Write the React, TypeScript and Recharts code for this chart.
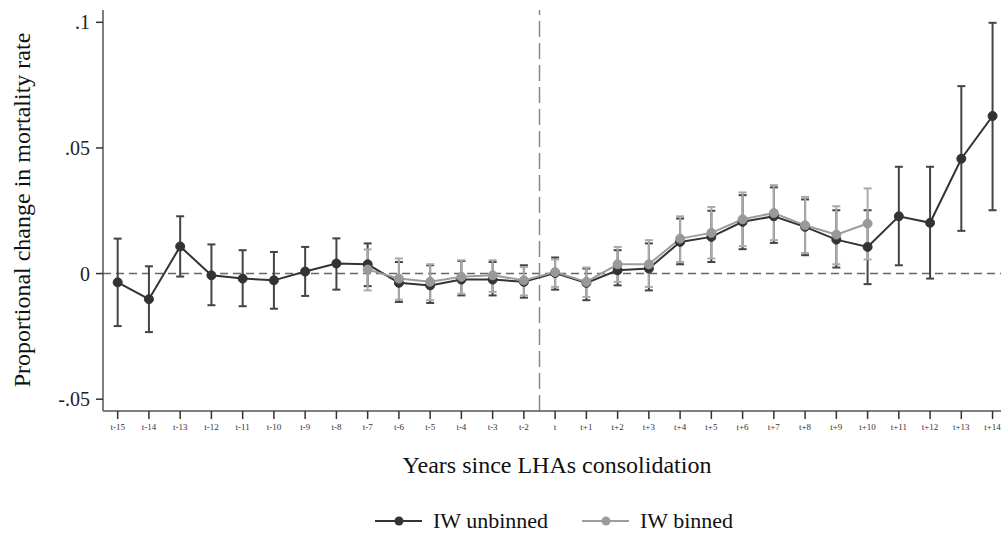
import React from 'react';
import { ComposedChart, Line, XAxis, YAxis, ErrorBar, ReferenceLine } from 'recharts';

const xLabels = [
    't-15', 't-14', 't-13', 't-12', 't-11', 't-10', 't-9', 't-8', 't-7', 't-6', 't-5', 't-4', 't-3', 't-2',
    't',
    't+1', 't+2', 't+3', 't+4', 't+5', 't+6', 't+7', 't+8', 't+9', 't+10', 't+11', 't+12', 't+13', 't+14',
];

// IW unbinned: point estimate and 95% CI
const unbinned = [
    -0.0035, -0.0102, 0.0108, -0.0007, -0.002, -0.0027, 0.0008, 0.004, 0.0037, -0.0037, -0.0047, -0.0024, -0.0024, -0.0033,
    0.0002,
    -0.0037, 0.0013, 0.002, 0.0126, 0.0146, 0.0206, 0.0228, 0.0186, 0.0135, 0.0106, 0.0228, 0.0202, 0.0457, 0.0627,
];
const unbinnedLo = [
    -0.0209, -0.0233, -0.0012, -0.0126, -0.013, -0.014, -0.0089, -0.0064, -0.005, -0.0113, -0.0117, -0.0087, -0.0087, -0.0096,
    -0.0064,
    -0.0106, -0.0047, -0.0067, 0.0037, 0.0046, 0.0097, 0.0122, 0.0073, 0.0024, -0.0042, 0.0033, -0.002, 0.017, 0.0252,
];
const unbinnedHi = [
    0.0139, 0.0029, 0.0228, 0.0116, 0.0093, 0.0086, 0.0106, 0.014, 0.012, 0.0046, 0.0033, 0.005, 0.0046, 0.0033,
    0.0064,
    0.002, 0.0093, 0.012, 0.0219, 0.025, 0.0312, 0.0343, 0.0295, 0.0252, 0.0252, 0.0425, 0.0425, 0.0746, 0.0998,
];

// IW binned: only t-7 .. t+10
const binned = [
    null, null, null, null, null, null, null, null, 0.0016, -0.002, -0.0033, -0.0013, -0.0007, -0.0027,
    0.0006,
    -0.0033, 0.0037, 0.0037, 0.0139, 0.0162, 0.0216, 0.0241, 0.0192, 0.0155, 0.0199, null, null, null, null,
];
const binnedLo = [
    null, null, null, null, null, null, null, null, -0.0067, -0.0104, -0.0106, -0.008, -0.0073, -0.0087,
    -0.0053,
    -0.0093, -0.0033, -0.0053, 0.0046, 0.006, 0.0109, 0.0133, 0.0082, 0.0037, 0.0056, null, null, null, null,
];
const binnedHi = [
    null, null, null, null, null, null, null, null, 0.0096, 0.006, 0.0037, 0.0053, 0.0053, 0.0026,
    0.0056,
    0.0024, 0.0106, 0.0133, 0.0228, 0.0265, 0.0323, 0.0352, 0.0305, 0.0268, 0.0339, null, null, null, null,
];

const yTicks = [-0.05, 0, 0.05, 0.1];
const yTickLabels = ['-.05', '0', '.05', '.1'];
const eventAt = 13.5; // between t-2 and t

const FONT = '"Liberation Serif", "DejaVu Serif", serif';

const unbData = xLabels.map((label, i) => ({
    idx: i,
    label,
    unb: unbinned[i],
    unbErr: [unbinned[i] - unbinnedLo[i], unbinnedHi[i] - unbinned[i]],
}));

const binData = xLabels
    .map((label, i) => ({
        idx: i,
        label,
        bin: binned[i],
        binErr: binned[i] == null ? null : [binned[i]! - binnedLo[i]!, binnedHi[i]! - binned[i]!],
    }))
    .filter((d) => d.bin != null);

const LegendItem: React.FC<{ left: number; color: string; text: string }> = ({ left, color, text }) => (
    <div style={{ position: 'absolute', left, top: 507, display: 'flex', alignItems: 'center', height: 28 }}>
        <svg width={48} height={14} style={{ marginRight: 10 }}>
            <line x1={0} y1={7} x2={47} y2={7} stroke={color} strokeWidth={2} />
            <circle cx={24} cy={7} r={4.5} fill={color} />
        </svg>
        <span style={{ fontFamily: FONT, fontSize: 22, color: '#111' }}>{text}</span>
    </div>
);

const App: React.FC = () => {
    return (
        <div style={{ position: 'absolute', left: 0, top: 0, width: 1001, height: 538, background: '#fff' }}>
            <ComposedChart width={1001} height={538} margin={{ top: 10, right: 0, bottom: 0, left: 0 }}>
                <XAxis
                    dataKey="idx"
                    type="number"
                    domain={[-0.47, 28.27]}
                    ticks={xLabels.map((_, i) => i)}
                    interval={0}
                    tickFormatter={(v: number) => xLabels[v]}
                    height={127}
                    tickSize={8}
                    tickMargin={5}
                    axisLine={{ stroke: '#555', strokeWidth: 1.5 }}
                    tickLine={{ stroke: '#333', strokeWidth: 1.5 }}
                    tick={{ fill: '#333', fontSize: 9, fontFamily: FONT }}
                    allowDataOverflow
                />
                <YAxis
                    type="number"
                    domain={[-0.0547, 0.1049]}
                    ticks={yTicks}
                    interval={0}
                    tickFormatter={(v: number) => yTickLabels[yTicks.indexOf(v)]}
                    width={103}
                    tickSize={7}
                    tickMargin={6}
                    axisLine={{ stroke: '#555', strokeWidth: 1.5 }}
                    tickLine={{ stroke: '#333', strokeWidth: 1.5 }}
                    tick={{ fill: '#222', fontSize: 20, fontFamily: FONT }}
                    allowDataOverflow
                />
                <ReferenceLine y={0} stroke="#666" strokeWidth={1.5} strokeDasharray="8 5" />
                <ReferenceLine x={eventAt} stroke="#888" strokeWidth={1.5} strokeDasharray="16 6" />
                <Line
                    data={unbData}
                    dataKey="unb"
                    stroke="#333"
                    strokeWidth={2}
                    dot={{ r: 4.5, fill: '#333', stroke: '#333', strokeWidth: 1 }}
                    isAnimationActive={false}
                >
                    <ErrorBar dataKey="unbErr" direction="y" width={4} stroke="#444" strokeWidth={2} />
                </Line>
                <Line
                    data={binData}
                    dataKey="bin"
                    stroke="#9c9c9c"
                    strokeWidth={2}
                    dot={{ r: 4.5, fill: '#999', stroke: '#999', strokeWidth: 1 }}
                    isAnimationActive={false}
                >
                    <ErrorBar dataKey="binErr" direction="y" width={4} stroke="#aaa" strokeWidth={2} />
                </Line>
            </ComposedChart>
            <div
                style={{
                    position: 'absolute',
                    left: 22,
                    top: 210,
                    transform: 'translate(-50%, -50%) rotate(-90deg)',
                    whiteSpace: 'nowrap',
                    fontFamily: FONT,
                    fontSize: 24,
                    color: '#111',
                }}
            >
                Proportional change in mortality rate
            </div>
            <div
                style={{
                    position: 'absolute',
                    left: 557,
                    top: 465,
                    transform: 'translate(-50%, -50%)',
                    whiteSpace: 'nowrap',
                    fontFamily: FONT,
                    fontSize: 24,
                    color: '#111',
                }}
            >
                Years since LHAs consolidation
            </div>
            <LegendItem left={375} color="#333" text="IW unbinned" />
            <LegendItem left={582} color="#9c9c9c" text="IW binned" />
        </div>
    );
};

export default App;
